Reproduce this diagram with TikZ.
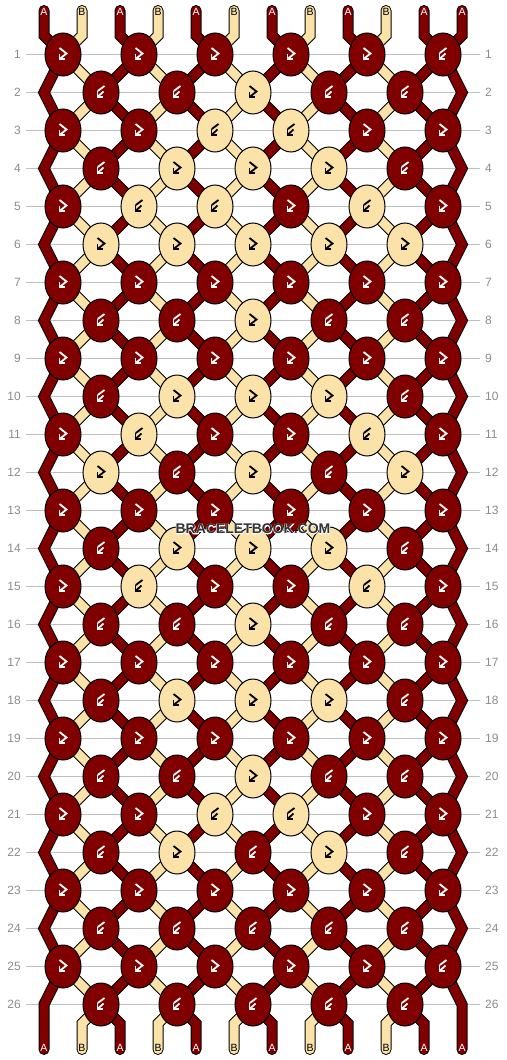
\documentclass[tikz,border=0pt]{standalone}
\usepackage{fontspec}
\setmainfont{Liberation Sans}
\newfontfamily\wmhalofont[FakeBold=8]{Liberation Sans Bold}
\usetikzlibrary{shapes.geometric}
\definecolor{cR}{RGB}{128,0,0}
\definecolor{cB}{RGB}{250,226,168}
\definecolor{gcR}{RGB}{255,255,255}
\definecolor{gcB}{RGB}{0,0,0}
\definecolor{gridgray}{RGB}{192,192,192}
\definecolor{numgray}{RGB}{140,140,140}
\definecolor{wmgray}{RGB}{51,51,51}
\tikzset{
  knot/.style={ellipse, draw=black, line width=1pt, minimum width=36pt, minimum height=43pt, inner sep=0pt},
  strout/.style={line width=11pt, draw=black, line cap=round, line join=miter},
  strin/.style={line width=9pt, line cap=round, line join=miter},
  glyphline/.style={line width=1.8pt, line cap=butt, line join=miter},
  glyphf/.pic={\draw[glyphline] (-3.5,-6.5) -- (3.5,-1) -- (-3.5,4.5); \draw[glyphline] (-3.5,-0.5) -- (-3.5,4.5) -- (1.5,4.5);},
  glyphb/.pic={\draw[glyphline] (3.5,-6.5) -- (-3.2,-1.5); \draw[glyphline] (2.5,-1) -- (-3.5,4.5); \draw[glyphline] (-3.5,-1.5) -- (-3.5,4.5) -- (1.5,4.5);},
  rownum/.style={text=numgray, font=\fontsize{12}{12}\selectfont, inner sep=0pt},
  endlab/.style={font=\fontsize{10.5}{10.5}\selectfont, inner sep=0pt},
  wm/.style={font=\bfseries\fontsize{14}{14}\selectfont, inner sep=0pt},
  wmhalo/.style={font=\wmhalofont\fontsize{14}{14}\selectfont, inner sep=0pt},
}
\newcommand\KnotRow[2]{%
  \pgfmathsetmacro\ky{16.5+38*#1}%
  \ifodd#1\relax\def\kx{63}\else\def\kx{101}\fi
  \foreach \c/\g [count=\k from 0] in {#2}{%
    \node[knot, fill=c\c] (k#1-\k) at ({\kx+76*\k},\ky) {};
    \pic[color=gc\c] at (k#1-\k) {glyph\g};
  }%
}
\begin{document}
\begin{tikzpicture}[x=1pt,y=-1pt]
\fill[white] (0,0) rectangle (506,1060);
\useasboundingbox (0,0) rectangle (506,1060);
% grid lines and row numbers
\foreach \r in {1,...,26}{
  \pgfmathsetmacro\y{16.5+38*\r}
  \coordinate (gl\r) at (26,\y);
  \coordinate (gr\r) at (480,\y);
  \draw[gridgray, line width=1pt] (gl\r) -- (gr\r);
  \node[rownum, anchor=east] (nl\r) at (21,\y) {\r};
  \node[rownum, anchor=west] (nr\r) at (485,\y) {\r};
}
% strings: outlines
\foreach \i in {0,...,11}{
  \pgfmathsetmacro\sx{44+38*\i}
  \pgfmathsetmacro\xo{63+76*floor(\i/2)}
  \pgfmathsetmacro\xe{\i==0 ? 44 : (\i==11 ? 462 : 101+76*floor((\i-1)/2))}
  \draw[strout] (\sx,10.5) -- (\sx,35.5) \foreach \r in {1,3,...,25}{ -- (\xo,{16.5+38*\r}) -- (\xe,{54.5+38*\r}) } -- (\sx,1023.5) -- (\sx,1049.5);
}
% strings: colours
\foreach \i/\sc in {0/cR,1/cB,2/cR,3/cB,4/cR,5/cB,6/cR,7/cB,8/cR,9/cB,10/cR,11/cR}{
  \pgfmathsetmacro\sx{44+38*\i}
  \pgfmathsetmacro\xo{63+76*floor(\i/2)}
  \pgfmathsetmacro\xe{\i==0 ? 44 : (\i==11 ? 462 : 101+76*floor((\i-1)/2))}
  \draw[strin, draw=\sc] (\sx,10.5) -- (\sx,35.5) \foreach \r in {1,3,...,25}{ -- (\xo,{16.5+38*\r}) -- (\xe,{54.5+38*\r}) } -- (\sx,1023.5) -- (\sx,1049.5);
}
% end labels
\foreach \i/\l/\tc in {0/A/white,1/B/black,2/A/white,3/B/black,4/A/white,5/B/black,6/A/white,7/B/black,8/A/white,9/B/black,10/A/white,11/A/white}{
  \node[endlab, text=\tc] (top\i) at ({44+38*\i},12) {\l};
  \node[endlab, text=\tc] (bot\i) at ({44+38*\i},1048) {\l};
}
% knots
\KnotRow{1}{R/f,R/f,R/f,R/f,R/f,R/b}
\KnotRow{2}{R/b,R/b,B/f,R/b,R/b}
\KnotRow{3}{R/f,R/f,B/b,B/b,R/f,R/f}
\KnotRow{4}{R/b,B/f,B/f,B/f,R/b}
\KnotRow{5}{R/f,B/b,B/b,R/f,B/b,R/f}
\KnotRow{6}{B/f,B/f,B/f,B/f,B/f}
\KnotRow{7}{R/f,R/f,R/f,R/f,R/f,R/f}
\KnotRow{8}{R/b,R/b,B/f,R/b,R/b}
\KnotRow{9}{R/f,R/f,R/f,R/f,R/f,R/f}
\KnotRow{10}{R/b,B/f,B/f,B/f,R/b}
\KnotRow{11}{R/f,B/b,R/f,R/f,B/b,R/f}
\KnotRow{12}{B/f,R/b,B/f,R/b,B/f}
\KnotRow{13}{R/f,R/f,R/f,R/f,R/f,R/f}
\KnotRow{14}{R/b,B/f,B/f,B/f,R/b}
\KnotRow{15}{R/f,B/b,R/f,R/f,B/b,R/f}
\KnotRow{16}{R/b,R/b,B/f,R/b,R/b}
\KnotRow{17}{R/f,R/f,R/f,R/f,R/f,R/f}
\KnotRow{18}{R/b,B/f,B/f,B/f,R/b}
\KnotRow{19}{R/f,R/f,R/f,R/f,R/f,R/f}
\KnotRow{20}{R/b,R/b,B/f,R/b,R/b}
\KnotRow{21}{R/f,R/f,B/b,B/b,R/f,R/f}
\KnotRow{22}{R/b,B/f,R/b,B/f,R/b}
\KnotRow{23}{R/f,R/f,R/f,R/f,R/f,R/f}
\KnotRow{24}{R/b,R/b,R/b,R/b,R/b}
\KnotRow{25}{R/f,R/f,R/f,R/f,R/f,R/b}
\KnotRow{26}{R/b,R/b,R/b,R/b,R/b}
% watermark (white halo under dark text)
\node[wmhalo, text=white] (wmh) at (253,529) {BRACELETBOOK.COM};
\node[wm, text=wmgray] (wm) at (253,529) {BRACELETBOOK.COM};
\end{tikzpicture}
\end{document}
